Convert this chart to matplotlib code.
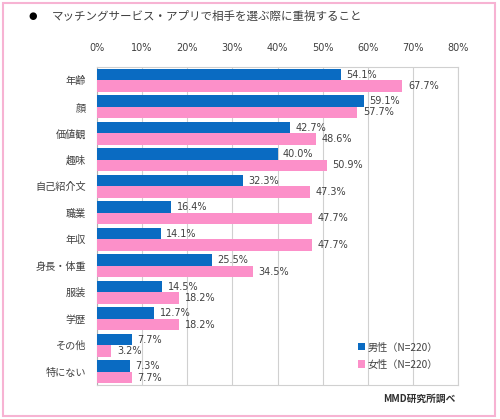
import matplotlib
matplotlib.use("Agg")
import matplotlib.pyplot as plt
from matplotlib.patches import Rectangle
import numpy as np

plt.rcParams['font.family'] = ['DejaVu Sans', 'Noto Sans CJK JP']

title = "マッチングサービス・アプリで相手を選ぶ際に重視すること"
categories = ["年齢", "顔", "価値観", "趣味", "自己紹介文", "職業", "年収",
              "身長・体重", "服装", "学歴", "その他", "特にない"]
male = [54.1, 59.1, 42.7, 40.0, 32.3, 16.4, 14.1, 25.5, 14.5, 12.7, 7.7, 7.3]
female = [67.7, 57.7, 48.6, 50.9, 47.3, 47.7, 47.7, 34.5, 18.2, 18.2, 3.2, 7.7]
xticks = [0, 10, 20, 30, 40, 50, 60, 70, 80]
legend_labels = ["男性（N=220）", "女性（N=220）"]
source = "MMD研究所調べ"

blue = "#0A6BC2"
pink = "#FC90C9"
textc = "#404040"

fig = plt.figure(figsize=(5.0, 4.19), dpi=100)
ax = fig.add_axes([0.194, 0.081, 0.722, 0.759])

n = len(categories)
y = np.arange(n)
h = 0.43
bm = ax.barh(y - h / 2, male, height=h, color=blue, label=legend_labels[0], zorder=3)
bf = ax.barh(y + h / 2, female, height=h, color=pink, label=legend_labels[1], zorder=3)

for yi, v in zip(y, male):
    ax.annotate(f"{v:.1f}%", (v, yi - h / 2), xytext=(4, 0), textcoords="offset points",
                va="center", ha="left", fontsize=7, color=textc)
for yi, v in zip(y, female):
    ax.annotate(f"{v:.1f}%", (v, yi + h / 2), xytext=(4, 0), textcoords="offset points",
                va="center", ha="left", fontsize=7, color=textc)

ax.set_xlim(0, 80)
ax.set_ylim(n - 0.5, -0.5)
ax.set_xticks(xticks)
ax.set_xticklabels([f"{t}%" for t in xticks])
ax.xaxis.tick_top()
ax.tick_params(axis='x', length=0, pad=10, labelsize=7, colors=textc)
ax.set_yticks(y)
ax.set_yticklabels(categories, family=['Noto Sans CJK JP'])
ax.tick_params(axis='y', length=0, pad=8, labelsize=7.3, colors=textc)
ax.grid(axis='x', color="#D0D0D0", linewidth=0.8, zorder=0)
for s in ax.spines.values():
    s.set_color("#D0D0D0")
    s.set_linewidth(0.8)
ax.spines['left'].set_color("#B0B0B0")

leg = ax.legend(handles=[bm, bf], loc="lower right", bbox_to_anchor=(0.97, 0.02),
                frameon=False, handlelength=0.7, handleheight=0.7,
                handletextpad=0.3, labelspacing=0.7,
                prop={'family': ['Noto Sans CJK JP'], 'size': 7.3})
for t in leg.get_texts():
    t.set_color(textc)

fig.text(0.066, 0.962, "●", fontsize=7, color="black", va="center", ha="center",
         family=['DejaVu Sans'])
fig.text(0.104, 0.962, title, fontsize=8.3, color=textc, va="center", ha="left",
         family=['Noto Sans CJK JP'])
fig.text(0.91, 0.047, source, fontsize=7, color="#303030", va="center", ha="right",
         family=['Noto Sans CJK JP'], fontweight='bold')

fig.patches.append(Rectangle((0.006, 0.007), 0.984, 0.985, transform=fig.transFigure,
                             fill=False, edgecolor="#F7B3D3", linewidth=1.5))

fig.savefig("out.png", dpi=100)
